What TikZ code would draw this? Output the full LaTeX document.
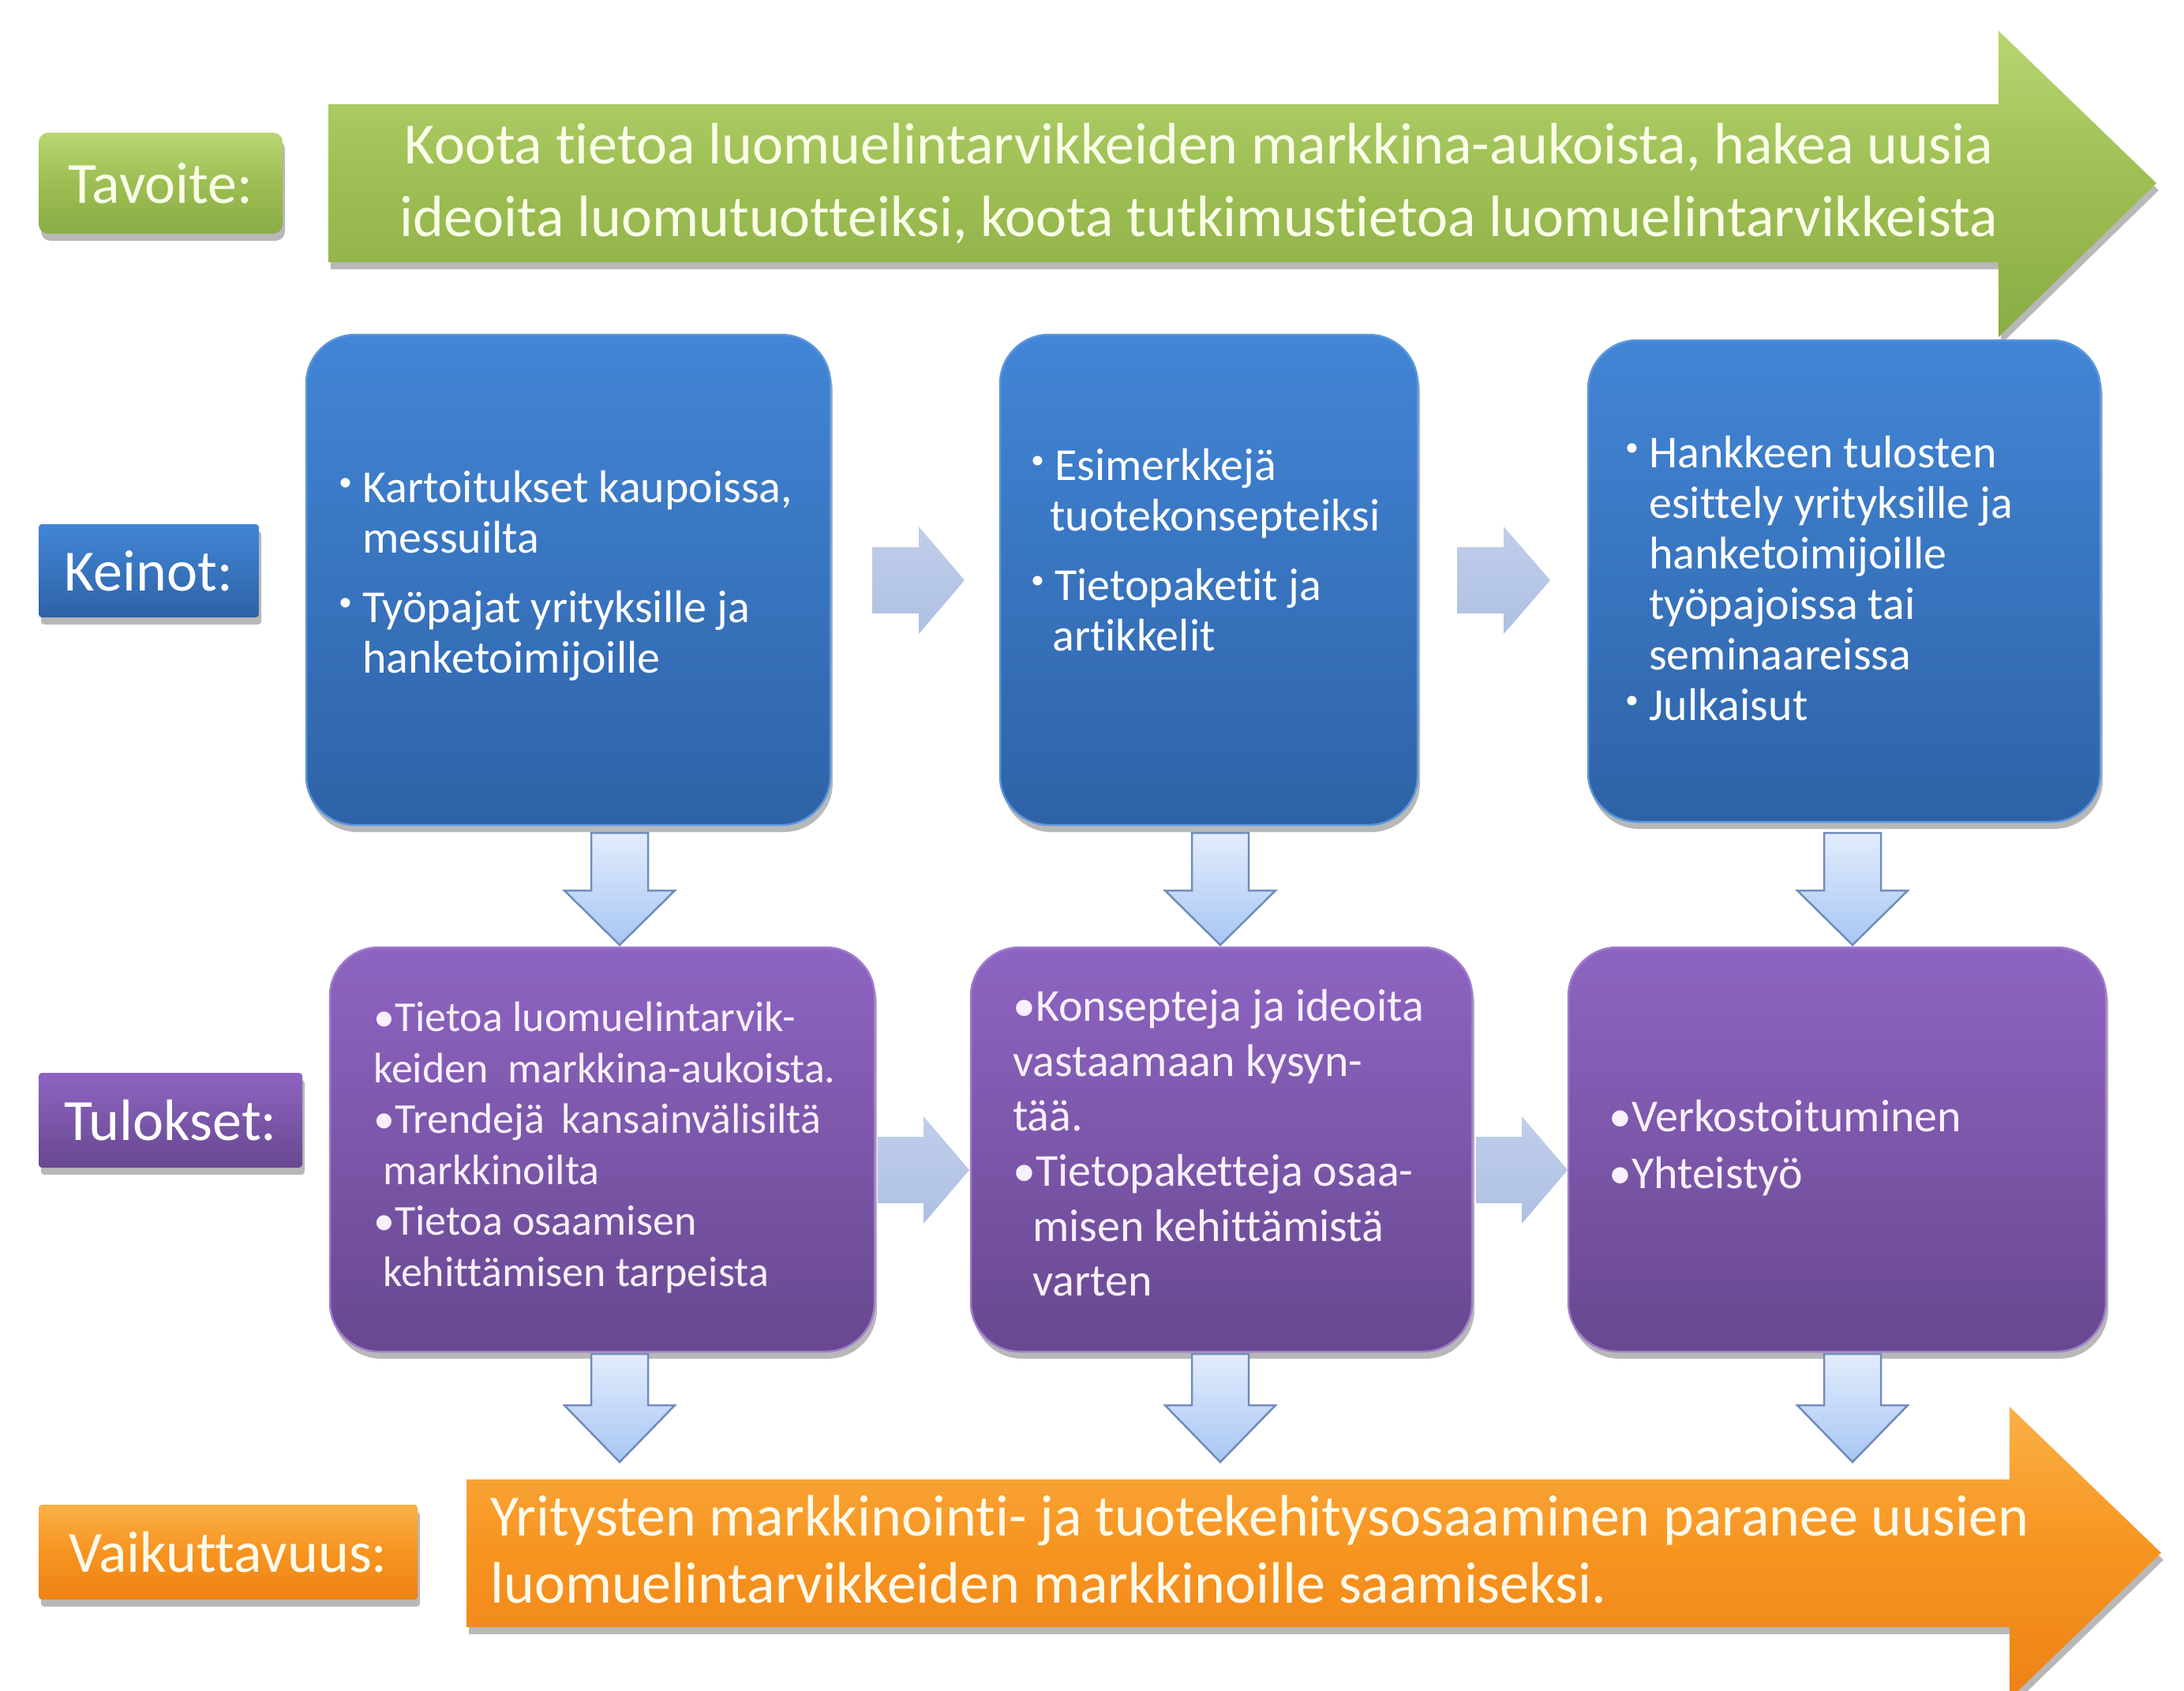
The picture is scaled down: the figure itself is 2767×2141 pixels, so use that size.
\documentclass[tikz,border=0pt]{standalone}
\usepackage{fontspec}
\setmainfont{Carlito}[Ligatures={NoCommon}]
\usepackage{graphicx}
\usetikzlibrary{shadows}
\definecolor{grnT}{RGB}{184,214,114}
\definecolor{grnM}{RGB}{156,190,82}
\definecolor{grnB}{RGB}{138,172,70}
\definecolor{bluT}{RGB}{66,134,214}
\definecolor{bluB}{RGB}{46,98,166}
\definecolor{bluE}{RGB}{92,150,220}
\definecolor{purT}{RGB}{142,100,194}
\definecolor{purB}{RGB}{104,72,144}
\definecolor{purE}{RGB}{160,124,206}
\definecolor{orgT}{RGB}{250,176,70}
\definecolor{orgM}{RGB}{247,148,32}
\definecolor{orgB}{RGB}{236,130,22}
\definecolor{hT}{RGB}{192,206,234}
\definecolor{hB}{RGB}{174,192,226}
\definecolor{vT}{RGB}{226,236,252}
\definecolor{vB}{RGB}{168,198,244}
\definecolor{vL}{RGB}{112,140,186}
\definecolor{creamG}{RGB}{250,255,232}
\definecolor{creamO}{RGB}{255,250,235}
\definecolor{lav}{RGB}{248,240,252}
\tikzset{
  shad/.style={drop shadow={shadow xshift=3pt, shadow yshift=-9pt, opacity=0.28, fill=black}},
  greenfill/.style={top color=grnT, bottom color=grnB, middle color=grnM},
  bluefill/.style={top color=bluT, bottom color=bluB},
  purfill/.style={top color=purT, bottom color=purB},
  orgfill/.style={top color=orgT, bottom color=orgB, middle color=orgM},
  lab/.style={inner sep=0, rounded corners=12, shad, text=white, font=\fontsize{74}{80}\selectfont},
  bigbox/.style={inner sep=0, rounded corners=62, shad, line width=2.5},
  txt/.style={anchor=north west, inner sep=0, align=left, text=white, font=\fontsize{58}{64}\selectfont},
  harrsty/.style={top color=hT, bottom color=hB},
  varrsty/.style={top color=vT, bottom color=vB, draw=vL, line width=2.5},
}
\newcommand\bb{\makebox[30pt][l]{\raisebox{15pt}{\fontsize{34}{34}\selectfont\textbullet}}}
\newcommand\ind{\hspace*{30pt}}
\newcommand\harr[4]{\path[harrsty] (#1,#4-42) -- (#2,#4-42) -- (#2,#4-68) -- (#3,#4) -- (#2,#4+68) -- (#2,#4+42) -- (#1,#4+42) -- cycle;}
\newcommand\varr[4]{\path[varrsty] (#1-36,#2) -- (#1+36,#2) -- (#1+36,#3) -- (#1+70,#3) -- (#1,#4) -- (#1-70,#3) -- (#1-36,#3) -- cycle;}
\begin{document}
\begin{tikzpicture}[x=1pt,y=-1pt]
\useasboundingbox (0,0) rectangle (2767,2141);
\fill[white] (0,0) rectangle (2767,2141);

% green goal arrow
\path[greenfill, shad] (416,132) -- (2532,132) -- (2532,39) -- (2732,232) -- (2532,427) -- (2532,332) -- (416,332) -- cycle;
\node[anchor=north, inner sep=0, align=center, text=creamG, font=\fontsize{74}{92}\selectfont] (goal) at (1519,148)
  {\rule{0pt}{0.8em}Koota tietoa luomuelintarvikkeiden markkina-aukoista, hakea uusia\\ideoita luomutuotteiksi, koota tutkimustietoa luomuelintarvikkeista};

% orange impact arrow
\path[orgfill, shad] (591,1874) -- (2546,1874) -- (2546,1782) -- (2738,1967) -- (2546,2152) -- (2546,2061) -- (591,2061) -- cycle;
\node[txt, text=creamO, font=\fontsize{74}{85}\selectfont] (impact) at (621,1886)
  {\rule{0pt}{0.8em}Yritysten markkinointi- ja tuotekehitysosaaminen paranee uusien\\luomuelintarvikkeiden markkinoille saamiseksi.};

% row labels
\node[lab, greenfill, minimum width=309, minimum height=128, text=creamG] (tav) at (203.5,232) {Tavoite:};
\node[lab, bluefill, rounded corners=4, minimum width=279, minimum height=118] (kei) at (188.5,723) {Keinot:};
\node[lab, purfill, rounded corners=4, minimum width=334, minimum height=120] (tul) at (216,1419) {Tulokset:};
\node[lab, orgfill, rounded corners=4, minimum width=480, minimum height=120, text=creamO] (vai) at (289,1966) {Vaikuttavuus:};

% blue boxes
\node[bigbox, bluefill, draw=bluE, minimum width=664, minimum height=621] (b1) at (720,734.5) {};
\node[bigbox, bluefill, draw=bluE, minimum width=529, minimum height=621] (b2) at (1531.5,734.5) {};
\node[bigbox, bluefill, draw=bluE, minimum width=649, minimum height=610] (b3) at (2336.5,736) {};

% purple boxes
\node[bigbox, purfill, draw=purE, minimum width=690, minimum height=512] (p1) at (763,1456) {};
\node[bigbox, purfill, draw=purE, minimum width=635, minimum height=512] (p2) at (1547.5,1456) {};
\node[bigbox, purfill, draw=purE, minimum width=681, minimum height=512] (p3) at (2327.5,1456) {};

% horizontal arrows
\harr{1105}{1164}{1222}{735}
\harr{1846}{1905}{1964}{735}
\harr{1112}{1170}{1228}{1482}
\harr{1870}{1928}{1986}{1482}

% vertical arrows
\varr{785}{1055}{1128}{1197}
\varr{1546}{1055}{1128}{1197}
\varr{2347}{1055}{1128}{1197}
\varr{785}{1715}{1780}{1852}
\varr{1546}{1715}{1780}{1852}
\varr{2347}{1715}{1780}{1852}

% blue texts
\node[txt] (tb1) at (429,590)
  {\rule{0pt}{0.8em}\bb Kartoitukset kaupoissa,\\ \ind messuilta\\[24pt] \bb Työpajat yrityksille ja\\ \ind hanketoimijoille};
\node[txt] (tb2) at (1306,562)
  {\rule{0pt}{0.8em}\bb Esimerkkejä\\ \hspace*{24pt}tuotekonsepteiksi\\[24pt] \bb Tietopaketit ja\\ \hspace*{27pt}artikkelit};
\node[txt] (tb3) at (2059,546)
  {\rule{0pt}{0.8em}\bb Hankkeen tulosten\\ \ind esittely yrityksille ja\\ \ind hanketoimijoille\\ \ind työpajoissa tai\\ \ind seminaareissa\\ \bb Julkaisut};

% purple texts
\node[txt, text=lav, font=\fontsize{54}{64.6}\selectfont] (tp1) at (473,1263)
  {\rule{0pt}{0.8em}\textbullet Tietoa luomuelintarvik-\\ keiden\hspace{0.45em}markkina-aukoista.\\ \textbullet Trendejä\hspace{0.4em}kansainvälisiltä\\ \hspace*{12pt}markkinoilta\\ \textbullet Tietoa osaamisen\\ \hspace*{12pt}kehittämisen tarpeista};
\node[txt, text=lav, font=\fontsize{58}{69.6}\selectfont] (tp2) at (1283,1247)
  {\rule{0pt}{0.8em}\textbullet Konsepteja ja ideoita\\ vastaamaan kysyn-\\ tää.\\ \textbullet Tietopaketteja osaa-\\ \hspace*{25pt}misen kehittämistä\\ \hspace*{25pt}varten};
\node[txt, text=lav, font=\fontsize{58}{72}\selectfont] (tp3) at (2038,1387)
  {\rule{0pt}{0.8em}\textbullet Verkostoituminen\\ \textbullet Yhteistyö};
\end{tikzpicture}
\end{document}
